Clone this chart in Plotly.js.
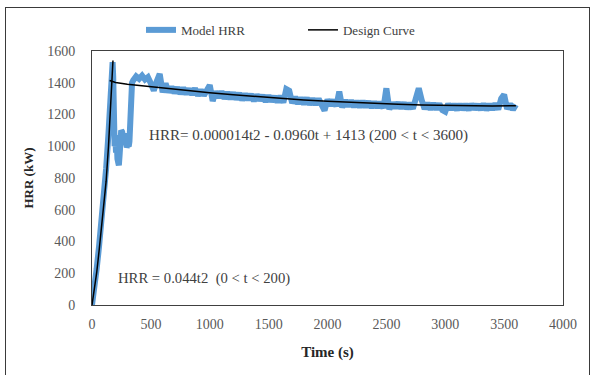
<!DOCTYPE html>
<html>
<head>
<meta charset="utf-8">
<script src="https://cdn.plot.ly/plotly-3.0.1.min.js"></script>
<style>
  html, body { margin: 0; padding: 0; background: #fff; }
  #wrap { position: relative; width: 591px; height: 375px; overflow: hidden; }
  #frame { position: absolute; left: 5px; top: 7px; width: 583px; height: 380px; border: 1px solid #3a3a3a; pointer-events: none; }
  #chart { position: absolute; left: 0; top: 0; width: 591px; height: 375px; }
</style>
</head>
<body>
<div id="wrap">
  <div id="chart"></div>
  <div id="frame"></div>
</div>
<script>
// ---- Data ----
// Model HRR: time (s)
const modelTime = [0,20,40,60,80,100,120,140,155,168,175,180,186,192,198,204,210,216,222,228,234,240,248,256,264,272,280,288,296,304,312,318,324,330,340,
350,375,400,425,450,475,500,525,550,575,600,625,650,675,700,725,750,775,800,825,850,875,900,925,950,975,
1000,1025,1050,1075,1100,1125,1150,1175,1200,1225,1250,1275,1300,1325,1350,1375,1400,1425,1450,1475,
1500,1525,1550,1575,1600,1625,1650,1675,1700,1725,1750,1775,1800,1825,1850,1875,1900,1925,1950,1975,
2000,2025,2050,2075,2100,2125,2150,2175,2200,2225,2250,2275,2300,2325,2350,2375,2400,2425,2450,2475,
2500,2525,2550,2575,2600,2625,2650,2675,2700,2725,2750,2775,2800,2825,2850,2875,2900,2925,2950,2975,
3000,3025,3050,3075,3100,3125,3150,3175,3200,3225,3250,3275,3300,3325,3350,3375,3400,3425,3450,3475,
3500,3525,3550,3575,3600];
// Model HRR: heat release rate (kW)
const modelHRR = [0,100,230,370,520,680,860,1080,1300,1480,1530,1440,1150,1000,1070,960,1040,920,890,880,940,1060,1100,1090,1060,1080,1030,1010,995,1005,1000,1030,1200,1380,1400,
1415,1440,1425,1445,1420,1435,1395,1350,1410,1455,1340,1395,1340,1375,1335,1370,1330,1368,1328,1362,1325,1365,1318,1355,1320,1352,
1385,1285,1345,1305,1345,1300,1340,1298,1338,1295,1335,1290,1330,1292,1328,1285,1325,1288,1322,1280,
1320,1282,1315,1278,1316,1275,1360,1350,1272,1310,1268,1305,1265,1305,1262,1300,1262,1298,1258,1225,
1295,1255,1292,1252,1345,1245,1290,1250,1288,1248,1285,1245,1285,1246,1282,1243,1280,1244,1278,1240,
1365,1232,1275,1240,1276,1238,1274,1236,1272,1236,1300,1365,1290,1235,1272,1232,1270,1232,1268,1228,
1218,1268,1230,1266,1228,1266,1230,1265,1228,1266,1232,1264,1230,1268,1228,1266,1230,1270,1232,1300,
1325,1235,1268,1230,1262];

// Design curve: growth phase then decay phase (null separates the two pieces)
const designTime = [0,20,40,60,80,100,120,140,160,178,null,
150,200,300,400,600,800,1000,1200,1400,1600,1800,2000,2200,2400,2600,2800,3000,3200,3400,3600];
const designHRR = [0,90,205,340,480,620,780,1000,1300,1540,null,
1414,1402,1391,1383,1366,1351,1337,1324,1312,1301,1292,1283,1276,1269,1264,1260,1257,1255,1254,1255];

const xTicks = [0,500,1000,1500,2000,2500,3000,3500,4000];
const yTicks = [0,200,400,600,800,1000,1200,1400,1600];

const seriesNames = ['Model HRR', 'Design Curve'];
const noteGrowth = 'HRR = 0.044t2\u00a0\u00a0(0 < t < 200)';
const noteDecay = 'HRR= 0.000014t2 - 0.0960t + 1413 (200 < t < 3600)';

// ---- Chart ----
const FONT = 'Liberation Serif, Times New Roman, serif';

const traces = [
  {
    x: modelTime, y: modelHRR, name: seriesNames[0], type: 'scatter', mode: 'lines',
    line: { color: '#5B9BD5', width: 6, shape: 'linear' }
  },
  {
    x: designTime, y: designHRR, name: seriesNames[1], type: 'scatter', mode: 'lines',
    connectgaps: false,
    line: { color: '#000000', width: 1.5 }
  }
];

const layout = {
  width: 591, height: 375,
  margin: { l: 92, r: 28, t: 51, b: 70 },
  paper_bgcolor: 'rgba(0,0,0,0)', plot_bgcolor: '#ffffff',
  font: { family: FONT, size: 13, color: '#404040' },
  showlegend: true,
  legend: {
    orientation: 'h', x: 0.104, xanchor: 'left', y: 1.083, yanchor: 'middle',
    font: { family: FONT, size: 13, color: '#404040' },
    entrywidth: 117, entrywidthmode: 'pixels',
    bgcolor: 'rgba(0,0,0,0)'
  },
  xaxis: {
    range: [0, 4000], tickvals: xTicks, ticktext: xTicks.map(String),
    showgrid: false, zeroline: false,
    showline: true, mirror: true, linecolor: '#404040', linewidth: 1,
    ticks: 'outside', ticklen: 6, tickcolor: 'rgba(0,0,0,0)',
    tickfont: { family: FONT, size: 14, color: '#595959' },
    title: { text: '<b>Time (s)</b>', font: { family: FONT, size: 15, color: '#262626' }, standoff: 15 },
    automargin: false
  },
  yaxis: {
    range: [0, 1600], tickvals: yTicks, ticktext: yTicks.map(String),
    showgrid: false, zeroline: false,
    showline: true, mirror: true, linecolor: '#404040', linewidth: 1,
    ticks: 'outside', ticklen: 13, tickcolor: 'rgba(0,0,0,0)',
    tickfont: { family: FONT, size: 14, color: '#595959' },
    title: { text: '<b>HRR (kW)</b>', font: { family: FONT, size: 13, color: '#262626' }, standoff: 10 },
    automargin: false
  },
  annotations: [
    { x: 470, y: 1069, xref: 'x', yref: 'y', text: noteDecay, showarrow: false,
      xanchor: 'left', yanchor: 'middle', font: { family: FONT, size: 15.1, color: '#404040' } },
    { x: 200, y: 164, xref: 'x', yref: 'y', text: noteGrowth, showarrow: false,
      xanchor: 'left', yanchor: 'middle', font: { family: FONT, size: 14.7, color: '#404040' } }
  ]
};

Plotly.newPlot('chart', traces, layout, { displayModeBar: false, staticPlot: true });
</script>
</body>
</html>
